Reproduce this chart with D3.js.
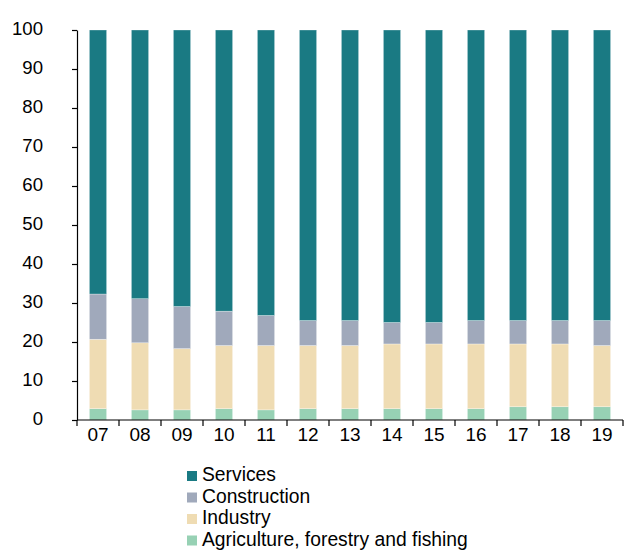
<!DOCTYPE html>
<html><head><meta charset="utf-8">
<script src="https://cdn.jsdelivr.net/npm/d3@7"></script>
<style>body{margin:0;background:#fff}svg{display:block}text{font-family:"Liberation Sans",Arial,sans-serif;fill:#000}</style>
</head><body>
<svg id="c" width="629" height="550"></svg>
<script>
const categories = ["07","08","09","10","11","12","13","14","15","16","17","18","19"];
const agriculture = [2.9,2.6,2.6,2.9,2.6,2.9,2.9,2.9,2.9,2.9,3.4,3.4,3.4];
const industry = [17.8,17.2,15.7,16.2,16.5,16.2,16.2,16.6,16.6,16.6,16.1,16.1,15.7];
const construction = [11.6,11.3,10.8,8.8,7.7,6.4,6.4,5.5,5.5,6.0,6.0,6.0,6.4];
const services = [67.7,68.9,70.9,72.1,73.2,74.5,74.5,75.0,75.0,74.5,74.5,74.5,74.5];
const yTicks = [0,10,20,30,40,50,60,70,80,90,100];
const seriesNames = ["Agriculture, forestry and fishing","Industry","Construction","Services"];
const seriesColors = ["#97d1b4","#efdcb3","#a0a9bb","#1a7a83"];

const svg = d3.select("#c");
const x = d3.scaleBand().domain(categories).range([77,623]).paddingInner(0.59).paddingOuter(0.295);
const y = d3.scaleLinear().domain([0,100]).range([420,30]);

const rows = categories.map((c,i)=>({cat:c, s0:agriculture[i], s1:industry[i], s2:construction[i], s3:services[i]}));
const stack = d3.stack().keys(["s0","s1","s2","s3"])(rows);

svg.append("g").selectAll("g").data(stack).join("g")
  .attr("fill",(d,i)=>seriesColors[i])
  .selectAll("rect").data(d=>d).join("rect")
  .attr("x",d=>x(d.data.cat)).attr("width",x.bandwidth())
  .attr("y",d=>y(d[1])).attr("height",d=>y(d[0])-y(d[1]))
  .attr("stroke","#fff").attr("stroke-opacity",0.5).attr("stroke-width",0.6);

// y axis
const ya = svg.append("g").attr("transform","translate(77,0)")
  .call(d3.axisLeft(y).tickValues(yTicks).tickSize(5).tickPadding(29).tickSizeOuter(0));
ya.select(".domain").attr("stroke","#000").attr("stroke-width",1.2);
ya.selectAll(".tick line").attr("stroke","#000").attr("stroke-width",1.2);
ya.selectAll("text").attr("font-size","18.6px").attr("dy","0.22em").attr("font-family","Liberation Sans, Arial, sans-serif").attr("fill","#111");

// x axis
const xa = svg.append("g").attr("transform","translate(0,420)");
xa.append("line").attr("x1",77).attr("x2",623).attr("y1",0).attr("y2",0).attr("stroke","#000").attr("stroke-width",1.2);
const bounds = categories.map(c=>x(c)-x.step()*x.paddingInner()/2);
bounds.push(623);
xa.selectAll("line.t").data(bounds).join("line").attr("class","t")
  .attr("x1",d=>d).attr("x2",d=>d).attr("y1",0).attr("y2",6).attr("stroke","#000").attr("stroke-width",1.2);
xa.selectAll("text").data(categories).join("text")
  .attr("x",d=>x(d)+x.bandwidth()/2).attr("y",21).attr("text-anchor","middle")
  .attr("font-size","19px").attr("fill","#111").text(d=>d);

// legend
const legOrder = [3,2,1,0];
const lg = svg.append("g");
legOrder.forEach((si,k)=>{
  const yy = 471 + k*21.5;
  lg.append("rect").attr("x",187).attr("y",yy).attr("width",10).attr("height",10).attr("fill",seriesColors[si]);
  lg.append("text").attr("x",202).attr("y",yy+10).attr("font-size","19.3px").attr("fill","#111").text(seriesNames[si]);
});
</script>
</body></html>
